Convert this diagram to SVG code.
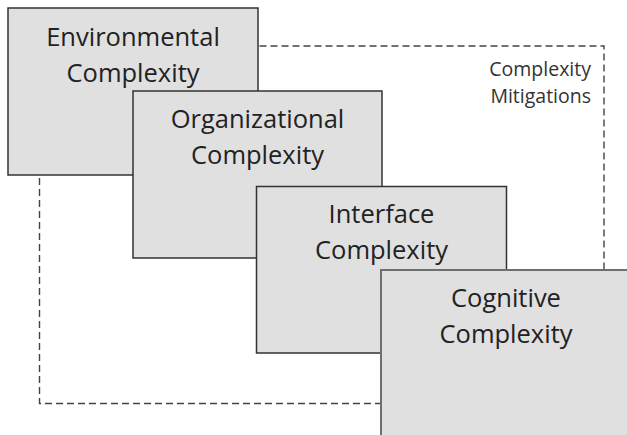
<svg xmlns="http://www.w3.org/2000/svg" width="627" height="435" viewBox="0 0 627 435">
<style>
.box{fill:#e0e0e0;stroke:#333;stroke-width:1.5}
.box4{fill:#e0e0e0;stroke:#6f6f6f;stroke-width:2}
.lbl{font-family:"Open Sans","Liberation Sans",sans-serif;font-size:25.5px;fill:#222;text-anchor:middle}
.note{font-family:"Open Sans","Liberation Sans",sans-serif;font-size:19.5px;fill:#333;text-anchor:end}
.dash{fill:none;stroke:#444;stroke-width:1.4;stroke-dasharray:7 4}
</style>
<rect width="627" height="435" fill="#fff"/>
<g id="connectors">
<rect class="dash" x="39.5" y="46" width="564.5" height="357.5"/>
</g>
<g id="mitigations">
<text class="note" x="591" y="76">Complexity</text>
<text class="note" x="591" y="103">Mitigations</text>
</g>
<g id="environmental">
<rect class="box" x="8" y="8" width="250" height="167"/>
<text class="lbl" x="133" y="46">Environmental</text>
<text class="lbl" x="133" y="82">Complexity</text>
</g>
<g id="organizational">
<rect class="box" x="133" y="91" width="249" height="167"/>
<text class="lbl" x="257.5" y="128">Organizational</text>
<text class="lbl" x="257.5" y="164">Complexity</text>
</g>
<g id="interface">
<rect class="box" x="256.5" y="186.5" width="250" height="166.5"/>
<text class="lbl" x="381.5" y="223">Interface</text>
<text class="lbl" x="381.5" y="259">Complexity</text>
</g>
<g id="cognitive">
<rect class="box4" x="381" y="270" width="252" height="170"/>
<text class="lbl" x="506" y="307">Cognitive</text>
<text class="lbl" x="506" y="343">Complexity</text>
</g>
</svg>
